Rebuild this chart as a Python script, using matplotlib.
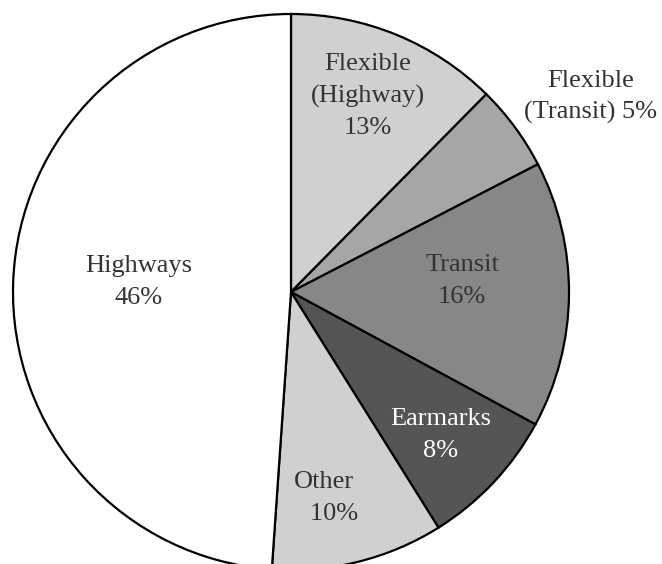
import matplotlib
matplotlib.use("Agg")
import matplotlib.pyplot as plt

# Data (shares) and label texts
categories = ["Flexible (Highway)", "Flexible (Transit)", "Transit", "Earmarks", "Other", "Highways"]
shares = [12.4, 5.0, 15.5, 8.2, 10.0, 48.9]
label_texts = ["Flexible\n(Highway)\n13%", "Flexible\n(Transit) 5%", "Transit\n16%",
               "Earmarks\n8%", "Other\n   10%", "Highways\n46%"]

colors = ["#d0d0d0", "#a6a6a6", "#878787", "#555555", "#d0d0d0", "#ffffff"]
text_colors = ["#333333", "#333333", "#333333", "#ffffff", "#333333", "#333333"]

W, H = 662, 564
fig = plt.figure(figsize=(W / 100, H / 100), dpi=100)
ax = fig.add_axes([0, 0, 1, 1])

cx, cy, r = 291, H - 292, 278
ax.pie(shares, colors=colors, startangle=90, counterclock=False,
       center=(cx, cy), radius=r, frame=True,
       wedgeprops=dict(edgecolor="black", linewidth=1.6))
ax.set_xlim(0, W)
ax.set_ylim(0, H)
ax.axis("off")

# label anchor positions (pixel coords from top-left)
label_pos = [(368, 96), (591, 97), (462, 281), (441, 435), (324, 498), (139, 282)]
for txt, (px, py), tc in zip(label_texts, label_pos, text_colors):
    ax.text(px, H - py, txt, ha="center", va="center", fontsize=19,
            family="Liberation Serif", color=tc, linespacing=1.55)

fig.savefig("out.png", dpi=100)
